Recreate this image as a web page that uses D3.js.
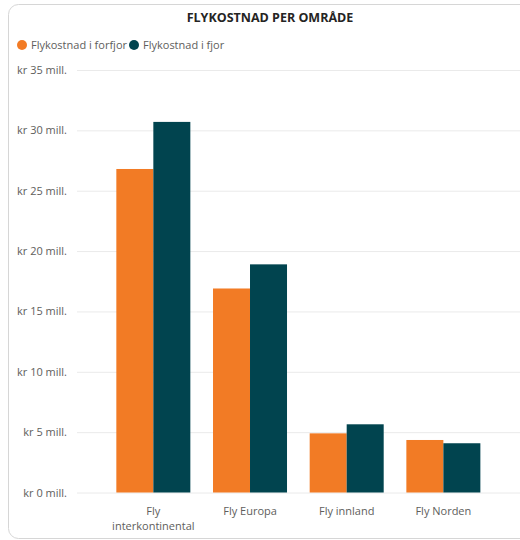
<!DOCTYPE html>
<html>
<head>
<meta charset="utf-8">
<script src="https://cdn.jsdelivr.net/npm/d3@7"></script>
<style>
  body { margin: 0; background: #fff; font-family: "Open Sans", "Segoe UI", sans-serif; }
  svg { display: block; }
</style>
</head>
<body>
<div id="chart"></div>
<script>
/* Data */
const CATEGORIES = ["Fly interkontinental", "Fly Europa", "Fly innland", "Fly Norden"]
const SERIES = ["Flykostnad i forfjor", "Flykostnad i fjor"]
const FORFJOR = [26.8, 16.9, 4.9, 4.35]
const FJOR = [30.7, 18.9, 5.65, 4.08]
const Y_TICKS = [0, 5, 10, 15, 20, 25, 30, 35]

/* Layout */
const WIDTH = 520
const HEIGHT = 540
const COLORS = ["#F27B25", "#01444F"]
const TEXT_COLOR = "#605E5C"

const svg = d3.select("#chart")
              .append("svg")
              .attr("width", WIDTH)
              .attr("height", HEIGHT);

/* Card frame */
svg.append("rect")
   .attr("x", 8.5).attr("y", 4.5)
   .attr("width", 540).attr("height", 534)
   .attr("rx", 10)
   .attr("fill", "#fff")
   .attr("stroke", "#d6d6d6");

svg.append("text")
   .attr("x", 270).attr("y", 22)
   .attr("text-anchor", "middle")
   .attr("font-size", 12.5)
   .attr("font-weight", "bold")
   .attr("fill", "#252423")
   .text("FLYKOSTNAD PER OMRÅDE");

/* Legend */
const legend = svg.append("g").attr("transform", "translate(22, 45)");
let lx = 0;
SERIES.forEach((s, i) => {
  const g = legend.append("g").attr("transform", "translate(" + lx + ",0)");
  g.append("circle").attr("r", 5).attr("fill", COLORS[i]);
  const t = g.append("text")
             .attr("x", 9).attr("y", 4)
             .attr("font-size", 11)
             .attr("fill", TEXT_COLOR)
             .text(s);
  lx += 9 + t.node().getComputedTextLength() + 7;
});

/* Scales */
const yScale = d3.scaleLinear().domain([0, 35]).range([492.5, 70]);
const xScale = d3.scaleBand()
                 .domain(CATEGORIES)
                 .range([105, 491.7])
                 .paddingInner(0.2345)
                 .paddingOuter(0.2345 / 2);
const xSub = d3.scaleBand()
               .domain(SERIES)
               .range([0, xScale.bandwidth()]);

/* Y axis */
const yAxis = d3.axisLeft(yScale)
                .tickValues(Y_TICKS)
                .tickSize(-(WIDTH - 77))
                .tickPadding(10)
                .tickFormat((d) => "kr " + d + " mill.");
const yG = svg.append("g")
              .attr("transform", "translate(77, 0)")
              .call(yAxis);
yG.select(".domain").remove();
yG.selectAll(".tick line").attr("stroke", "#eaeaea");
yG.selectAll(".tick text")
  .attr("font-size", 11)
  .attr("font-family", "'Open Sans', sans-serif")
  .attr("fill", TEXT_COLOR);

/* Bars */
const rows = CATEGORIES.map((c, i) => ({cat: c, vals: [FORFJOR[i], FJOR[i]]}));
const groups = svg.selectAll(".grp")
                  .data(rows)
                  .enter()
                  .append("g")
                  .attr("class", "grp")
                  .attr("transform", (d) => "translate(" + xScale(d.cat) + ",0)");
groups.selectAll("rect")
      .data((d) => d.vals.map((v, i) => ({s: SERIES[i], v: v, i: i})))
      .enter()
      .append("rect")
      .attr("x", (d) => xSub(d.s))
      .attr("y", (d) => yScale(d.v))
      .attr("width", xSub.bandwidth())
      .attr("height", (d) => yScale(0) - yScale(d.v))
      .attr("fill", (d) => COLORS[d.i]);

/* X axis */
const xAxis = d3.axisBottom(xScale).tickSize(0).tickPadding(15);
const xG = svg.append("g")
              .attr("transform", "translate(0, 492.5)")
              .call(xAxis);
xG.select(".domain").remove();
xG.selectAll(".tick text")
  .attr("font-size", 11)
  .attr("font-family", "'Open Sans', sans-serif")
  .attr("fill", TEXT_COLOR)
  .each(function(d) {
    const el = d3.select(this);
    if (this.getComputedTextLength() > xScale.step() - 8) {
      const words = d.split(" ");
      el.text(null);
      words.forEach((w, i) => {
        el.append("tspan")
          .attr("x", 0)
          .attr("dy", i === 0 ? "0.71em" : "1.38em")
          .text(w);
      });
      el.attr("dy", null);
    }
  });
</script>
</body>
</html>
